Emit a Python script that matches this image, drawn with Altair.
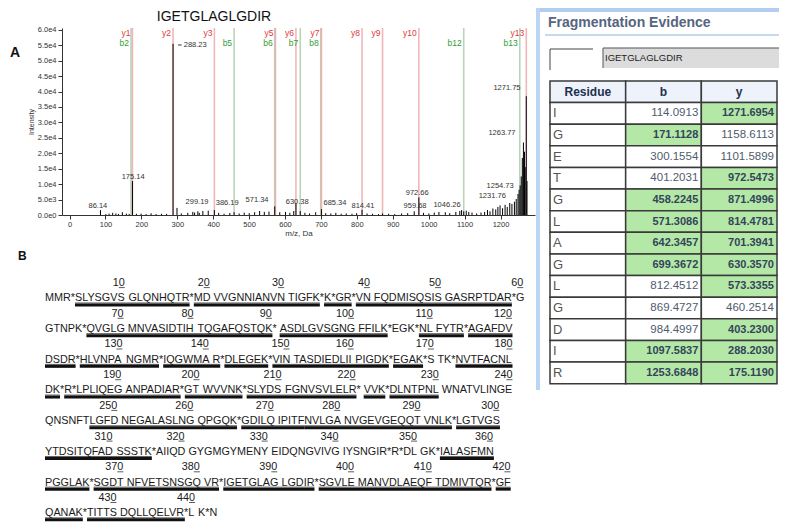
import altair as alt
import pandas as pd

# ---------------- Panel A : annotated MS/MS spectrum ----------------
peptide = "IGETGLAGLGDIR"

peak_mz = [86.14, 101.1, 110.1, 120.1, 129.1, 136.1, 147.1, 158.1, 166.1, 175.14,
           186.1, 199.1, 213.1, 227.1, 241.1, 256.1, 270.2, 288.23, 299.19, 311.2,
           329.2, 343.2, 348.2, 357.2, 361.2, 371.2, 386.19, 403.2, 415.2, 430.2,
           446.2, 458.2, 472.3, 486.3, 500.3, 515.3, 529.3, 542.3, 555.3, 571.34,
           585.3, 601.3, 613.3, 624.3, 630.38, 642.3, 655.3, 668.3, 685.34, 701.4,
           713.4, 727.4, 741.4, 756.4, 770.4, 786.4, 799.4, 814.41, 828.4, 843.4,
           860.5, 871.5, 888.5, 905.5, 924.5, 941.5, 959.68, 972.66, 985.5, 1000.5,
           1015.5, 1028.5, 1046.26, 1058.6, 1075.6, 1086.6, 1091.6, 1097.6, 1104.6, 1111.6,
           1120.6, 1133.6, 1145.7, 1155.7, 1163.7, 1170.7, 1178.7, 1186.7, 1192.7, 1198.7,
           1205.7, 1212.7, 1218.7, 1225.7, 1231.76, 1238.7, 1243.7, 1248.7, 1251.7, 1254.73,
           1257.7, 1260.7, 1263.77, 1266.7, 1268.7, 1271.75, 1273.7]
peak_int = [1600, 300, 450, 700, 500, 350, 900, 450, 350, 11000,
            400, 450, 300, 550, 300, 400, 350, 55500, 2300, 500,
            700, 1000, 800, 1200, 700, 1300, 1400, 1600, 700, 400,
            650, 900, 500, 750, 600, 900, 1300, 1000, 1100, 2800,
            900, 1000, 700, 1300, 3700, 1300, 700, 500, 900, 1900,
            600, 500, 700, 400, 500, 400, 600, 1700, 500, 400,
            300, 500, 400, 300, 500, 600, 1200, 5700, 700, 500,
            800, 1000, 900, 600, 1000, 1300, 1600, 1200, 1400, 1000,
            800, 500, 800, 1000, 1600, 1200, 2100, 1800, 2600, 3100,
            2200, 3300, 2600, 3900, 3600, 4300, 5200, 6800, 8200, 9600,
            12500, 18500, 23500, 20500, 15500, 38500, 11000]

label_text = ["86.14", "175.14", "288.23", "299.19", "386.19", "571.34", "630.38", "685.34",
              "814.41", "959.68", "972.66", "1046.26", "1231.76", "1254.73", "1263.77", "1271.75"]
label_mz = [79, 177, 350, 355, 439, 522, 634, 739, 817, 962, 968, 1051, 1177, 1199, 1204, 1218]
label_int = [2900, 12300, 55100, 4200, 3900, 4900, 4200, 3900, 2900, 2900, 7100, 3200, 6200, 9400, 26600, 41200]

leader_mz0 = [302]
leader_mz1 = [312]
leader_int = [55100]

ion_name = ["b2", "b5", "b6", "b7", "b8", "b12", "b13",
            "y1", "y2", "y3", "y5", "y6", "y7", "y8", "y9", "y10", "y13"]
ion_mz = [171.11, 458.22, 571.31, 642.35, 699.37, 1097.58, 1253.68,
          175.12, 288.20, 403.23, 573.34, 630.36, 701.39, 814.48, 871.50, 972.55, 1271.70]

x_ticks = [0, 100, 200, 300, 400, 500, 600, 700, 800, 900, 1000, 1100, 1200]
y_ticks = [0, 5000, 10000, 15000, 20000, 25000, 30000, 35000, 40000, 45000, 50000, 55000, 60000]

# ---------------- Fragmentation table ----------------
residues = list(peptide)
b_vals = ["114.0913", "171.1128", "300.1554", "401.2031", "458.2245", "571.3086", "642.3457",
          "699.3672", "812.4512", "869.4727", "984.4997", "1097.5837", "1253.6848"]
y_vals = ["1271.6954", "1158.6113", "1101.5899", "972.5473", "871.4996", "814.4781", "701.3941",
          "630.3570", "573.3355", "460.2514", "403.2300", "288.2030", "175.1190"]
b_match = [0, 1, 0, 0, 1, 1, 1, 1, 0, 0, 0, 1, 1]
y_match = [1, 0, 0, 1, 1, 1, 1, 1, 1, 0, 1, 1, 1]
headers = ["Residue", "b", "y"]

# ---------------- Panel B : protein sequence ----------------
seq_lines = [
    "MMR*SLYSGVS GLQNHQTR*MD VVGNNIANVN TIGFK*K*GR*VN FQDMISQSIS GASRPTDAR*G",
    "GTNPK*QVGLG MNVASIDTIH TQGAFQSTQK* ASDLGVSGNG FFILK*EGK*NL FYTR*AGAFDV",
    "DSDR*HLVNPA NGMR*IQGWMA R*DLEGEK*VIN TASDIEDLII PIGDK*EGAK*S TK*NVTFACNL",
    "DK*R*LPLIQEG ANPADIAR*GT WVVNK*SLYDS FGNVSVLELR* VVK*DLNTPNL WNATVLINGE",
    "QNSNFTLGFD NEGALASLNG QPGQK*GDILQ IPITFNVLGA NVGEVGEQQT VNLK*LGTVGS",
    "YTDSITQFAD SSSTK*AIIQD GYGMGYMENY EIDQNGVIVG IYSNGIR*R*DL GK*IALASFMN",
    "PGGLAK*SGDT NFVETSNSGQ VR*IGETGLAG LGDIR*SGVLE MANVDLAEQF TDMIVTQR*GF",
    "QANAK*TITTS DQLLQELVR*L K*N",
]
seq_numbers = [
    [10, 20, 30, 40, 50, 60],
    [70, 80, 90, 100, 110, 120],
    [130, 140, 150, 160, 170, 180],
    [190, 200, 210, 220, 230, 240],
    [250, 260, 270, 280, 290, 300],
    [310, 320, 330, 340, 350, 360],
    [370, 380, 390, 400, 410, 420],
    [430, 440],
]
# underlined (identified) residue ranges, residue numbers inclusive
underlined = [(4, 18), (19, 35), (36, 38), (39, 59), (66, 90), (91, 105), (109, 114),
              (115, 124), (125, 134), (135, 141), (142, 147), (148, 165), (166, 169),
              (173, 182), (183, 198), (199, 205), (206, 220), (221, 223), (224, 230),
              (247, 265), (266, 275), (276, 294), (295, 315), (353, 366), (367, 382),
              (383, 395), (396, 418), (419, 425), (426, 439)]

# ======================= geometry of the composite =======================
FONT = "Liberation Sans"
W, H = 473, 187            # spectrum plot area (the main view)
PAD_L, PAD_T = 54, 20
TAB_X = 474                # table panel left edge, relative to the main view
TAB_W = 243

# ======================= panel A =======================
xs = alt.Scale(domain=[-21, 1296], nice=False, zero=False)
ys = alt.Scale(domain=[0, 60600], nice=False, zero=False)
ax_common = dict(grid=False, labelFont=FONT, titleFont=FONT, labelColor="#333", titleColor="#333",
                 domainColor="#333", tickColor="#333", titleFontWeight="normal", tickSize=4)
x_axis = alt.Axis(values=x_ticks, format="d", title="m/z, Da", labelFontSize=7.5, titleFontSize=8,
                  labelPadding=1, titlePadding=2, labelFlush=False, **ax_common)
y_axis = alt.Axis(values=y_ticks, title="Intensity", titleFontSize=7, labelFontSize=7.5,
                  labelExpr="replace(format(datum.value, '.1e'), '+', '')",
                  labelPadding=2, titlePadding=3, **ax_common)


def X(f):
    return alt.X(f, type="quantitative", scale=xs, axis=x_axis)


def Y(f):
    return alt.Y(f, type="quantitative", scale=ys, axis=y_axis)


peaks_df = pd.DataFrame({"mz": peak_mz, "inten": peak_int, "base": 0})
ions_df = pd.DataFrame({"mz": ion_mz, "name": ion_name})
ions_df["kind"] = ions_df["name"].str[0]
ions_df["line_color"] = ions_df["kind"].map({"b": "#a7caa7", "y": "#eda5a5"})
ions_df["text_color"] = ions_df["kind"].map({"b": "#2f9e2f", "y": "#e0393b"})
ions_df["inten"] = ions_df["kind"].map({"b": 55740, "y": 58980})
ions_df["top"] = 60600
ions_df["base"] = 0
labels_df = pd.DataFrame({"mz": label_mz, "inten": label_int, "text": label_text})
leader_df = pd.DataFrame({"mz": leader_mz0, "mz2": leader_mz1, "inten": leader_int})

ion_lines = alt.Chart(ions_df).mark_rule(strokeWidth=1.6, opacity=0.8).encode(
    x=X("mz"), y=Y("top"), y2="base:Q", color=alt.Color("line_color:N", scale=None))
peaks = alt.Chart(peaks_df).mark_rule(color="#000", strokeWidth=1).encode(
    x=X("mz"), y=Y("inten"), y2="base:Q")
ion_text = alt.Chart(ions_df).mark_text(font=FONT, fontSize=8.5, align="right", baseline="middle", dx=-2).encode(
    x=X("mz"), y=Y("inten"), text="name:N", color=alt.Color("text_color:N", scale=None))
peak_text = alt.Chart(labels_df).mark_text(font=FONT, fontSize=7.5, color="#333", baseline="middle").encode(
    x=X("mz"), y=Y("inten"), text="text:N")
leader = alt.Chart(leader_df).mark_rule(color="#333", strokeWidth=1).encode(
    x=X("mz"), x2="mz2:Q", y=Y("inten"))
title_txt = alt.Chart(pd.DataFrame({"t": [peptide]})).mark_text(
    font=FONT, fontSize=14, color="#111", align="center", baseline="middle").encode(
    x=alt.value(152), y=alt.value(-11.5), text="t:N")
letter_a = alt.Chart(pd.DataFrame({"t": ["A"]})).mark_text(
    font=FONT, fontSize=14, fontWeight="bold", color="#111", align="left", baseline="middle").encode(
    x=alt.value(-52), y=alt.value(25), text="t:N")

spectrum = alt.layer(ion_lines, peaks, leader, ion_text, peak_text, title_txt, letter_a)

# ======================= panel B =======================
AW = {'A': 667, 'B': 667, 'C': 722, 'D': 722, 'E': 667, 'F': 611, 'G': 778, 'H': 722, 'I': 278,
      'J': 500, 'K': 667, 'L': 556, 'M': 833, 'N': 722, 'O': 778, 'P': 667, 'Q': 778, 'R': 722,
      'S': 667, 'T': 611, 'U': 722, 'V': 667, 'W': 944, 'X': 667, 'Y': 667, 'Z': 611, ' ': 278, '*': 389}
FS = 10.8
DIGIT = 0.556
ROW = 15.35

words, unders, nums, num_ul = [], [], [], []
res_loc = {}
line_pos = []
count = 0
for k, line in enumerate(seq_lines):
    pos, xe = [], 0.0
    for ch in line:
        pos.append(xe)
        xe += AW[ch] / 1000.0
    line_pos.append(pos)
    for ci, ch in enumerate(line):
        if ch.isalpha():
            count += 1
            res_loc[count] = (k, ci)
    ci = 0
    for word in line.split(" "):
        words.append({"text": word, "xe": pos[ci], "row": 2 * k + 1})
        ci += len(word) + 1

for a, b in underlined:
    cur = None
    segs = []
    for r in range(a, b + 1):
        k, ci = res_loc[r]
        if cur is None or cur[0] != k:
            if cur:
                segs.append(cur)
            cur = [k, ci, ci]
        else:
            cur[2] = ci
    segs.append(cur)
    for k, c0, c1 in segs:
        x0 = line_pos[k][c0]
        x1 = line_pos[k][c1] + AW[seq_lines[k][c1]] / 1000.0
        unders.append({"x0": x0, "x1": x1, "yb": 2 * k + 1 + 0.43, "yt": 2 * k + 1 + 0.30})

for k, lst in enumerate(seq_numbers):
    for num in lst:
        kk, ci = res_loc[num]
        center = line_pos[kk][ci] + AW[seq_lines[kk][ci]] / 2000.0
        right = center + DIGIT / 2
        nums.append({"text": str(num), "xe": right, "row": 2 * k})
        num_ul.append({"x0": right - DIGIT, "x1": right, "yt": 2 * k + 0.30})

# sequence text starts 17 px left of the main view; first number row 255 px below its top
sx0 = 17 / FS
sx = alt.Scale(domain=[sx0, sx0 + W / FS], nice=False, zero=False)
sy0 = -255 / ROW
sy = alt.Scale(domain=[sy0, sy0 + H / ROW], nice=False, zero=False, reverse=True)
SX = lambda f: alt.X(f, type="quantitative", scale=sx, axis=None)
SY = lambda f: alt.Y(f, type="quantitative", scale=sy, axis=None)

seq_words = alt.Chart(pd.DataFrame(words)).mark_text(
    font=FONT, fontSize=FS, color="#1a1a1a", align="left", baseline="middle").encode(
    x=SX("xe"), y=SY("row"), text="text:N")
seq_nums = alt.Chart(pd.DataFrame(nums)).mark_text(
    font=FONT, fontSize=FS, color="#1a1a1a", align="right", baseline="middle").encode(
    x=SX("xe"), y=SY("row"), text="text:N")
ul_df = pd.DataFrame(unders)
ul_thick = alt.Chart(ul_df).mark_rule(color="#111", strokeWidth=3).encode(
    x=SX("x0"), x2="x1:Q", y=SY("yb"))
ul_thin = alt.Chart(ul_df).mark_rule(color="#333", strokeWidth=0.8).encode(
    x=SX("x0"), x2="x1:Q", y=SY("yt"))
num_ul_m = alt.Chart(pd.DataFrame(num_ul)).mark_rule(color="#333", strokeWidth=0.8).encode(
    x=SX("x0"), x2="x1:Q", y=SY("yt"))
letter_b = alt.Chart(pd.DataFrame({"t": ["B"], "xe": [-2.5], "row": [-1.76]})).mark_text(
    font=FONT, fontSize=12, fontWeight="bold", color="#111", align="left", baseline="middle").encode(
    x=SX("xe"), y=SY("row"), text="t:N")

sequence = alt.layer(ul_thin, ul_thick, num_ul_m, seq_words, seq_nums, letter_b)

# ======================= table panel =======================
COLW = (777 - 550) / 3.0
ROWH = 21.62
tx0 = -(TAB_X + 14) / COLW
tx = alt.Scale(domain=[tx0, tx0 + W / COLW], nice=False, zero=False)
ty0 = -53 / ROWH
ty = alt.Scale(domain=[ty0, ty0 + H / ROWH], nice=False, zero=False, reverse=True)
GREEN = "#b4e8a7"
HEAD = "#edf2fb"

cells, texts = [], []
for c, h in enumerate(headers):
    cells.append({"c0": c, "c1": c + 1, "r0": 0, "r1": 1, "fill": HEAD})
    texts.append({"t": h, "x": c + 0.5, "r": 0.5, "kind": "head"})
for i in range(len(residues)):
    r = i + 1
    cells.append({"c0": 0, "c1": 1, "r0": r, "r1": r + 1, "fill": "#ffffff"})
    cells.append({"c0": 1, "c1": 2, "r0": r, "r1": r + 1, "fill": GREEN if b_match[i] else "#ffffff"})
    cells.append({"c0": 2, "c1": 3, "r0": r, "r1": r + 1, "fill": GREEN if y_match[i] else "#ffffff"})
    texts.append({"t": residues[i], "x": 0.04, "r": r + 0.5, "kind": "res"})
    texts.append({"t": b_vals[i], "x": 1.96, "r": r + 0.5, "kind": "bold" if b_match[i] else "norm"})
    texts.append({"t": y_vals[i], "x": 2.96, "r": r + 0.5, "kind": "bold" if y_match[i] else "norm"})
cells_df = pd.DataFrame(cells)
texts_df = pd.DataFrame(texts)

TX = alt.X("x:Q", scale=tx, axis=None)
TY = alt.Y("r:Q", scale=ty, axis=None)
cell_m = alt.Chart(cells_df).mark_rect(stroke="#3a3a3a", strokeWidth=1.5).encode(
    x=alt.X("c0:Q", scale=tx, axis=None), x2="c1:Q",
    y=alt.Y("r0:Q", scale=ty, axis=None), y2="r1:Q", fill=alt.Color("fill:N", scale=None))
head_t = alt.Chart(texts_df).transform_filter("datum.kind == 'head'").mark_text(
    font=FONT, fontSize=12, fontWeight="bold", color="#22304d", align="center", baseline="middle").encode(
    x=TX, y=TY, text="t:N")
res_t = alt.Chart(texts_df).transform_filter("datum.kind == 'res'").mark_text(
    font=FONT, fontSize=13, color="#555", align="left", baseline="middle").encode(
    x=TX, y=TY, text="t:N")
norm_t = alt.Chart(texts_df).transform_filter("datum.kind == 'norm'").mark_text(
    font=FONT, fontSize=11.5, color="#4f5b6e", align="right", baseline="middle").encode(
    x=TX, y=TY, text="t:N")
bold_t = alt.Chart(texts_df).transform_filter("datum.kind == 'bold'").mark_text(
    font=FONT, fontSize=11, fontWeight="bold", color="#34445a", align="right", baseline="middle").encode(
    x=TX, y=TY, text="t:N")

one = pd.DataFrame({"t": [""]})


def deco_rect(x, x2, y, y2, fill):
    return alt.Chart(one).mark_rect(fill=fill).encode(
        x=alt.value(TAB_X + x), x2=alt.value(TAB_X + x2), y=alt.value(y), y2=alt.value(y2))


def deco_line(x, x2, y, y2, color, w=1.0):
    return alt.Chart(one).mark_rule(color=color, strokeWidth=w).encode(
        x=alt.value(TAB_X + x), x2=alt.value(TAB_X + x2), y=alt.value(y), y2=alt.value(y2))


deco = [
    deco_rect(0, TAB_W, -20, -16, "#b3cdee"),
    deco_rect(0, 4, -20, 362, "#bcd5f3"),
    deco_line(9, TAB_W, 7, 7, "#c6d9f1", 2),
    deco_line(14, 57, 21, 21, "#444"),
    deco_line(14, 14, 21, 42, "#444"),
    deco_rect(67, TAB_W, 20, 40, "#dcdcdc"),
    deco_line(67, TAB_W, 20, 20, "#555"),
    deco_line(67, 67, 20, 40, "#555"),
]
title_tab = alt.Chart(pd.DataFrame({"t": ["Fragmentation Evidence"]})).mark_text(
    font=FONT, fontSize=14, fontWeight="bold", color="#56657f", align="left", baseline="middle").encode(
    x=alt.value(TAB_X + 12), y=alt.value(-5), text="t:N")
box_t = alt.Chart(pd.DataFrame({"t": [peptide]})).mark_text(
    font=FONT, fontSize=9.5, color="#222", align="left", baseline="middle").encode(
    x=alt.value(TAB_X + 69), y=alt.value(30), text="t:N")

table = alt.layer(*deco, title_tab, box_t, cell_m, head_t, res_t, norm_t, bold_t)

chart = alt.layer(spectrum, table, sequence).resolve_scale(
    x="independent", y="independent"
).properties(
    width=W, height=H,
    autosize=alt.AutoSizeParams(type="none"),
    padding={"left": PAD_L, "top": PAD_T, "right": 771 - PAD_L - W, "bottom": 515 - PAD_T - H},
).configure_view(stroke=None)

chart.save("out.html", embed_options={"renderer": "svg", "actions": False})
